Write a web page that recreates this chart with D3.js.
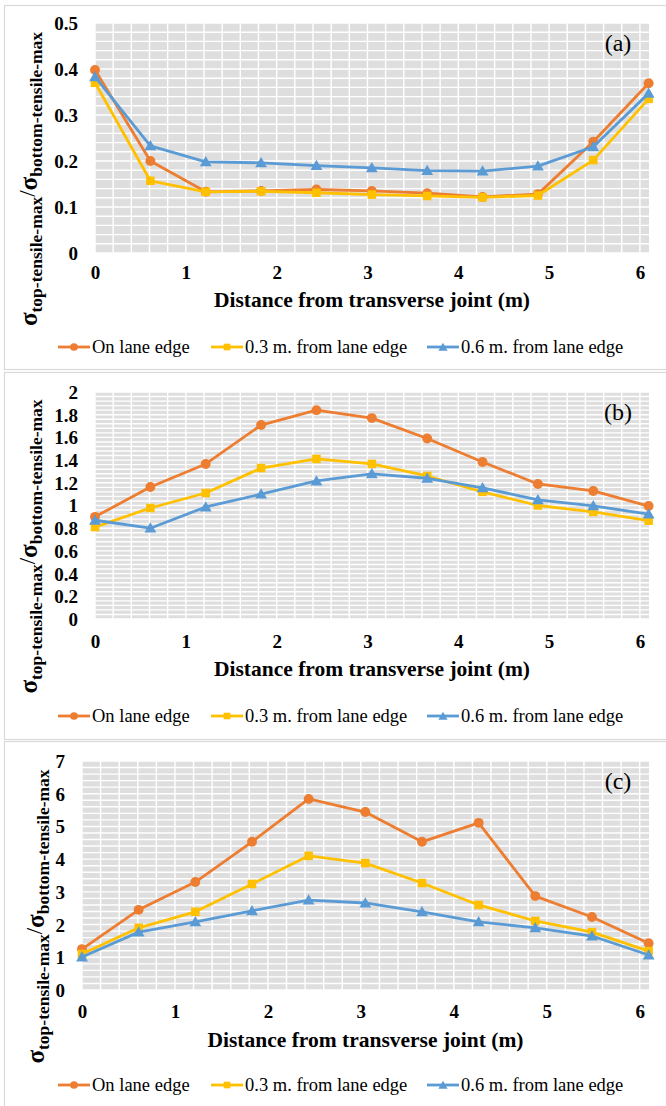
<!DOCTYPE html>
<html>
<head>
<meta charset="utf-8">
<script src="https://cdn.jsdelivr.net/npm/d3@7"></script>
<style>
  body { margin: 0; background: #fff; }
  svg { display: block; }
  text { font-family: "Liberation Serif", "Times New Roman", serif; }
</style>
</head>
<body>
<svg id="chart" width="666" height="1106" font-family="'Liberation Serif', serif"></svg>
<script>
// Distance from the transverse joint (m), sampled every 2 ft
const distances = [0, 0.6096, 1.2192, 1.8288, 2.4384, 3.048, 3.6576, 4.2672, 4.8768, 5.4864, 6.096];
const seriesNames = ["On lane edge", "0.3 m. from lane edge", "0.6 m. from lane edge"];
const seriesColors = ["#ED7D31", "#FFC000", "#5B9BD5"];
const seriesMarkers = ["circle", "square", "triangle"];

// (a) stress ratio
const ratioA_onEdge = [0.398, 0.200, 0.133, 0.135, 0.138, 0.135, 0.130, 0.122, 0.128, 0.242, 0.369];
const ratioA_03m    = [0.370, 0.157, 0.133, 0.134, 0.131, 0.127, 0.124, 0.121, 0.125, 0.202, 0.335];
const ratioA_06m    = [0.383, 0.233, 0.198, 0.196, 0.190, 0.185, 0.179, 0.178, 0.189, 0.231, 0.347];

// (b) stress ratio
const ratioB_onEdge = [0.90, 1.163, 1.366, 1.709, 1.84, 1.77, 1.59, 1.383, 1.19, 1.128, 0.995];
const ratioB_03m    = [0.81, 0.978, 1.11, 1.33, 1.41, 1.366, 1.26, 1.12, 1.00, 0.943, 0.866];
const ratioB_06m    = [0.87, 0.80, 0.987, 1.10, 1.216, 1.278, 1.24, 1.156, 1.05, 0.996, 0.925];

// (c) stress ratio
const ratioC_onEdge = [1.25, 2.45, 3.30, 4.53, 5.84, 5.44, 4.53, 5.11, 2.87, 2.23, 1.43];
const ratioC_03m    = [1.10, 1.90, 2.39, 3.24, 4.10, 3.88, 3.27, 2.60, 2.11, 1.77, 1.19];
const ratioC_06m    = [1.01, 1.77, 2.08, 2.42, 2.75, 2.66, 2.39, 2.08, 1.90, 1.65, 1.07];

// Axis ticks
const xTicks = [0, 1, 2, 3, 4, 5, 6];
const yTicksA = [0, 0.1, 0.2, 0.3, 0.4, 0.5];
const yTicksB = [0, 0.2, 0.4, 0.6, 0.8, 1, 1.2, 1.4, 1.6, 1.8, 2];
const yTicksC = [0, 1, 2, 3, 4, 5, 6, 7];
const panelTags = ["(a)", "(b)", "(c)"];
const xTitle = "Distance from transverse joint (m)";

const svg = d3.select("#chart");
const serif = "'Liberation Serif', 'Times New Roman', serif";

const panels = [
  { tag: panelTags[0], series: [ratioA_onEdge, ratioA_03m, ratioA_06m], yTicks: yTicksA, minor: 0.02,
    boxTop: 5, boxH: 364, left: 95, top: 23, bottom: 253, titleX: 37, xLabelY: 279, xTitleY: 307, legendY: 347 },
  { tag: panelTags[1], series: [ratioB_onEdge, ratioB_03m, ratioB_06m], yTicks: yTicksB, minor: 0.04,
    boxTop: 372, boxH: 367, left: 95, top: 392, bottom: 619, titleX: 37, xLabelY: 648, xTitleY: 676, legendY: 716 },
  { tag: panelTags[2], series: [ratioC_onEdge, ratioC_03m, ratioC_06m], yTicks: yTicksC, minor: 0.2,
    boxTop: 741, boxH: 400, left: 82, top: 761, bottom: 990, titleX: 44, xLabelY: 1018, xTitleY: 1047, legendY: 1085 }
];

const plotRight = 649;
const xMax = 6.1;

function drawMarker(sel, type, x, y, color, size) {
  if (type === "circle") {
    sel.append("circle").attr("cx", x).attr("cy", y).attr("r", size * 0.55).attr("fill", color);
  } else if (type === "square") {
    const s = size * 0.95;
    sel.append("rect").attr("x", x - s / 2).attr("y", y - s / 2).attr("width", s).attr("height", s).attr("fill", color);
  } else {
    const sym = d3.symbol().type(d3.symbolTriangle).size(size * size * 0.75);
    sel.append("path").attr("d", sym()).attr("transform", `translate(${x},${y + 1})`).attr("fill", color);
  }
}

panels.forEach(p => {
  const g = svg.append("g");
  const yMax = p.yTicks[p.yTicks.length - 1];

  // frame of the chart
  g.append("rect").attr("x", 4.5).attr("y", p.boxTop + 0.5).attr("width", 700).attr("height", p.boxH)
    .attr("fill", "#fff").attr("stroke", "#d9d9d9").attr("stroke-width", 1.2);

  const x = d3.scaleLinear().domain([0, xMax]).range([p.left, plotRight]);
  const y = d3.scaleLinear().domain([0, yMax]).range([p.bottom, p.top]);

  // plot area and white grid
  g.append("rect").attr("x", p.left).attr("y", p.top).attr("width", plotRight - p.left)
    .attr("height", p.bottom - p.top).attr("fill", "#dedede");
  const vx = d3.range(0, xMax + 1e-6, 0.2);
  g.append("g").selectAll("line").data(vx).join("line")
    .attr("x1", d => x(d)).attr("x2", d => x(d)).attr("y1", p.top).attr("y2", p.bottom)
    .attr("stroke", "#fff").attr("stroke-width", 1.4);
  const nMinor = Math.round(yMax / p.minor);
  const hy = d3.range(0, nMinor + 1).map(i => i * p.minor);
  g.append("g").selectAll("line").data(hy).join("line")
    .attr("x1", p.left).attr("x2", plotRight).attr("y1", d => y(d)).attr("y2", d => y(d))
    .attr("stroke", "#fff").attr("stroke-width", 1.4);

  // y axis labels
  const yAxis = d3.axisLeft(y).tickValues(p.yTicks).tickSize(0).tickPadding(17)
    .tickFormat(d => String(+d.toFixed(2)));
  const ya = g.append("g").attr("transform", `translate(${p.left},0)`).call(yAxis);
  ya.attr("font-family", serif);
  ya.select(".domain").remove();
  ya.selectAll("text").attr("font-family", serif).attr("font-size", 19)
    .attr("font-weight", "bold").attr("fill", "#000").attr("dy", "0.34em");

  // x axis labels
  const xAxis = d3.axisBottom(x).tickValues(xTicks).tickSize(0).tickFormat(d3.format("d"));
  const xa = g.append("g").attr("transform", `translate(0,${p.xLabelY})`).call(xAxis);
  xa.attr("font-family", serif);
  xa.select(".domain").remove();
  xa.selectAll("text").attr("font-family", serif).attr("font-size", 19)
    .attr("font-weight", "bold").attr("fill", "#000").attr("y", 0).attr("dy", 0);

  // x axis title
  g.append("text").attr("x", (p.left + plotRight) / 2).attr("y", p.xTitleY).attr("text-anchor", "middle")
    .attr("font-family", serif).attr("font-size", 21.5).attr("font-weight", "bold").text(xTitle);

  // y axis title: σ_top-tensile-max / σ_bottom-tensile-max
  const cy = (p.top + p.bottom) / 2 + 41;
  const t = g.append("text").attr("transform", `translate(${p.titleX},${cy}) rotate(-90)`)
    .attr("text-anchor", "middle").attr("font-family", serif).attr("font-weight", "bold");
  t.append("tspan").attr("font-size", 25).text("σ");
  t.append("tspan").attr("font-size", 17.5).attr("dy", 5).text("top-tensile-max");
  t.append("tspan").attr("font-size", 23).attr("dy", -7).attr("font-weight", "normal").text("/");
  t.append("tspan").attr("font-size", 25).attr("dy", 2).text("σ");
  t.append("tspan").attr("font-size", 17.5).attr("dy", 5).text("bottom-tensile-max");

  // series lines and markers
  const line = d3.line().x((d, i) => x(distances[i])).y(d => y(d));
  p.series.forEach((vals, si) => {
    g.append("path").datum(vals).attr("d", line).attr("fill", "none")
      .attr("stroke", seriesColors[si]).attr("stroke-width", 2.8).attr("stroke-linejoin", "round");
    const mg = g.append("g");
    vals.forEach((v, i) => drawMarker(mg, seriesMarkers[si], x(distances[i]), y(v), seriesColors[si], 9));
  });

  // panel tag
  g.append("text").attr("x", 618).attr("y", p.top + 28).attr("text-anchor", "middle")
    .attr("font-family", serif).attr("font-size", 24).text(p.tag);

  // legend
  const legX = [58, 211, 427];
  seriesNames.forEach((name, si) => {
    const lg = g.append("g");
    lg.append("line").attr("x1", legX[si]).attr("x2", legX[si] + 32).attr("y1", p.legendY).attr("y2", p.legendY)
      .attr("stroke", seriesColors[si]).attr("stroke-width", 2.8);
    drawMarker(lg, seriesMarkers[si], legX[si] + 16, p.legendY, seriesColors[si], 7);
    lg.append("text").attr("x", legX[si] + 34).attr("y", p.legendY + 6)
      .attr("font-family", serif).attr("font-size", 18.5).text(name);
  });
});
</script>
</body>
</html>
